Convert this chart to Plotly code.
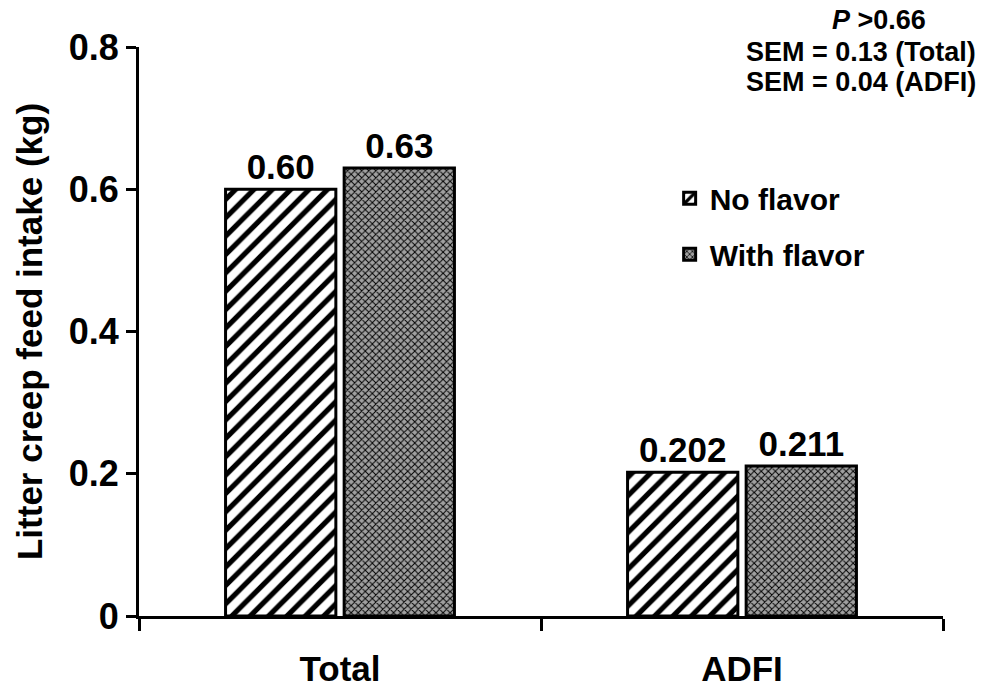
import plotly.graph_objects as go

categories = ["Total", "ADFI"]
series_names = ["No flavor", "With flavor"]
no_flavor = [0.60, 0.202]
with_flavor = [0.63, 0.211]
no_flavor_labels = ["0.60", "0.202"]
with_flavor_labels = ["0.63", "0.211"]
y_ticks = [0, 0.2, 0.4, 0.6, 0.8]
y_tick_labels = ["0", "0.2", "0.4", "0.6", "0.8"]

FONT = "Liberation Sans, Arial, sans-serif"

fig = go.Figure()
fig.add_trace(go.Bar(
    name=series_names[0], x=categories, y=no_flavor, legendgroup="a",
    text=no_flavor_labels, textposition="outside",
    textfont=dict(size=35, color="black", family=FONT, weight="bold"),
    marker=dict(color="white", line=dict(color="black", width=3),
                pattern=dict(shape="/", fgcolor="black", bgcolor="white",
                             fgopacity=1, size=13, solidity=0.4)),
    cliponaxis=False,
))
fig.add_trace(go.Bar(
    name=series_names[1], x=categories, y=with_flavor, legendgroup="b",
    text=with_flavor_labels, textposition="outside",
    textfont=dict(size=35, color="black", family=FONT, weight="bold"),
    marker=dict(color="#808080", line=dict(color="black", width=3),
                pattern=dict(shape="x", fgcolor="black", bgcolor="#a0a0a0",
                             fgopacity=1, size=5, solidity=0.35)),
    cliponaxis=False,
))

fig.update_layout(
    width=988, height=691,
    margin=dict(l=139, r=45, t=47, b=75),
    paper_bgcolor="white", plot_bgcolor="white",
    font=dict(family=FONT, color="black", weight="bold"),
    barmode="group", bargap=0.41, bargroupgap=0.07,
    showlegend=True,
    legend=dict(x=0.66, y=0.78, xanchor="left", yanchor="top",
                font=dict(size=30, family=FONT, weight="bold"),
                bgcolor="rgba(0,0,0,0)", itemwidth=30, tracegroupgap=14),
)
fig.update_xaxes(
    range=[-0.5, 1.5], showline=True, linecolor="black", linewidth=3,
    ticks="outside", tickson="boundaries", ticklen=12, tickwidth=3, tickcolor="black",
    tickfont=dict(size=35, family=FONT, weight="bold"), showgrid=False,
    ticklabelstandoff=20, automargin=False,
)
fig.update_yaxes(
    range=[0, 0.8], showline=True, linecolor="black", linewidth=3,
    ticks="outside", ticklen=10, tickwidth=3, tickcolor="black",
    tickvals=y_ticks, ticktext=y_tick_labels,
    tickfont=dict(size=36, family=FONT, weight="bold"), showgrid=False, zeroline=False,
    title=dict(text="Litter creep feed intake (kg)",
               font=dict(size=35, family=FONT, weight="bold"), standoff=16),
    automargin=False,
)

ann_font = dict(size=27, family=FONT, color="black", weight="bold")
fig.add_annotation(text="<i>P</i> >0.66", xref="paper", yref="paper",
                   x=0.92, y=1.047, xanchor="center", yanchor="middle",
                   showarrow=False, font=ann_font)
fig.add_annotation(text="SEM = 0.13 (Total)", xref="paper", yref="paper",
                   x=1.0435, y=0.991, xanchor="right", yanchor="middle",
                   showarrow=False, font=ann_font)
fig.add_annotation(text="SEM = 0.04 (ADFI)", xref="paper", yref="paper",
                   x=1.0435, y=0.938, xanchor="right", yanchor="middle",
                   showarrow=False, font=ann_font)

fig.write_html("out.html")
